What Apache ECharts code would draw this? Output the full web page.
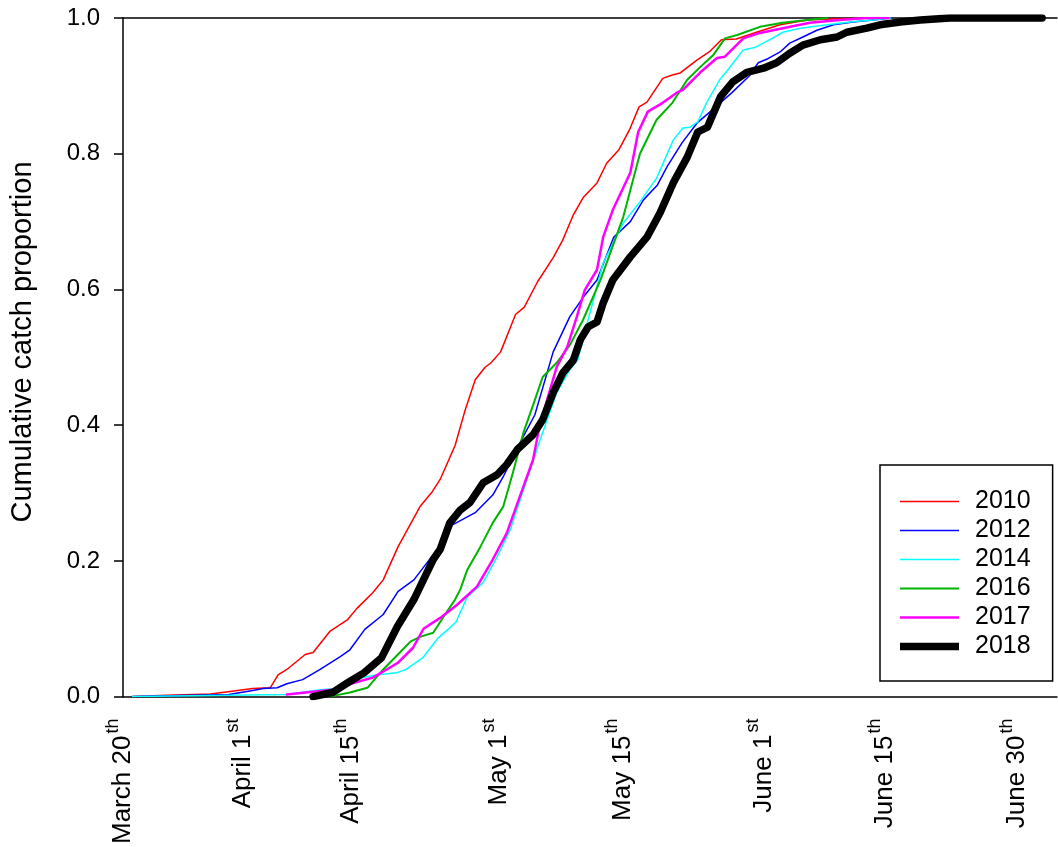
<!DOCTYPE html>
<html>
<head>
<meta charset="utf-8">
<script src="https://cdn.jsdelivr.net/npm/echarts@6/dist/echarts.min.js"></script>
<style>
  html, body { margin: 0; padding: 0; background: #fff; }
  #chart { width: 1058px; height: 847px; }
</style>
</head>
<body>
<div id="chart"></div>
<script>
// x = days after March 20th, y = cumulative catch proportion
const y2010 = [[1.1,0],[5,0.002],[10,0.004],[12,0.007],[14.8,0.012],[16.8,0.013],[17.7,0.032],[18.7,0.040],[20.8,0.062],[21.7,0.065],[23.6,0.096],[25.6,0.113],[26.7,0.13],[28.5,0.153],[29.7,0.172],[31.4,0.221],[33.9,0.28],[35.3,0.302],[36.2,0.32],[37.9,0.37],[39.0,0.42],[40.2,0.467],[41.3,0.485],[42.0,0.492],[43.1,0.508],[44.8,0.563],[45.8,0.574],[47.3,0.611],[49.1,0.647],[50.2,0.673],[51.4,0.71],[52.5,0.735],[54.1,0.757],[55.2,0.786],[56.6,0.806],[57.8,0.835],[58.9,0.869],[59.8,0.876],[61.6,0.911],[62.7,0.916],[63.6,0.919],[65.5,0.938],[66.9,0.95],[68.3,0.968],[70.0,0.969],[72.3,0.979],[75.0,0.99],[78.1,0.997],[81.5,0.999],[86.9,1.0]];
const y2012 = [[1.1,0],[12.1,0.003],[14.8,0.009],[16,0.012],[17.6,0.013],[18.7,0.019],[20.5,0.025],[22.5,0.040],[24.8,0.059],[25.9,0.069],[27.6,0.099],[29.7,0.121],[31.4,0.155],[33.2,0.172],[36.1,0.221],[37.6,0.253],[40.2,0.271],[42.2,0.297],[43.4,0.324],[45.3,0.374],[47.0,0.415],[49.1,0.508],[51.0,0.56],[52.5,0.588],[54.1,0.614],[56.0,0.677],[57.9,0.70],[59.4,0.732],[61.0,0.754],[62.1,0.781],[63.8,0.816],[65.5,0.845],[67.4,0.866],[69.5,0.89],[71.5,0.915],[72.5,0.934],[73.6,0.94],[75.0,0.95],[76.1,0.963],[77.6,0.972],[79.2,0.982],[81.1,0.99],[83.3,0.994],[85.6,0.997],[87.6,1.0]];
const y2014 = [[1.1,0],[18.7,0.003],[22.5,0.01],[24.4,0.012],[27.3,0.028],[28.9,0.032],[31.2,0.035],[32.3,0.040],[34.2,0.057],[36.0,0.087],[37.1,0.099],[38.0,0.11],[39.3,0.147],[41.1,0.168],[42.7,0.206],[44.2,0.246],[46.1,0.32],[47.6,0.378],[49.5,0.448],[51.0,0.482],[51.9,0.496],[53.0,0.551],[54.8,0.639],[57.1,0.698],[59.0,0.729],[60.9,0.764],[62.8,0.82],[63.9,0.838],[64.7,0.839],[65.6,0.847],[66.6,0.875],[68.1,0.909],[69.0,0.923],[69.9,0.938],[70.8,0.953],[72.2,0.957],[74.1,0.97],[75.3,0.979],[77.3,0.985],[80.4,0.99],[83.0,0.994],[85.6,0.997],[87.6,1.0]];
const y2016 = [[23.6,0],[25.9,0.006],[27.9,0.013],[29.7,0.04],[31.6,0.065],[32.8,0.081],[33.9,0.088],[35.4,0.094],[36.9,0.124],[37.9,0.143],[38.5,0.158],[39.3,0.187],[40.8,0.221],[42.2,0.256],[43.4,0.28],[44.5,0.33],[45.7,0.389],[47.0,0.437],[47.9,0.471],[49.5,0.492],[51.0,0.518],[52.5,0.555],[54.5,0.614],[57.1,0.707],[59.0,0.80],[60.9,0.85],[62.7,0.875],[64.4,0.909],[65.9,0.928],[67.4,0.946],[68.7,0.97],[70.1,0.975],[72.7,0.987],[75.3,0.993],[78.1,0.997],[80.4,1.0]];
const y2017 = [[18.7,0.003],[21.7,0.007],[23.9,0.01],[26.3,0.02],[28.5,0.028],[30.1,0.04],[31.4,0.05],[33.1,0.072],[34.3,0.1],[36.2,0.116],[38.1,0.135],[40.4,0.162],[42.2,0.202],[43.8,0.241],[45.3,0.295],[46.8,0.349],[47.4,0.389],[48.4,0.437],[49.5,0.486],[50.7,0.515],[51.8,0.56],[52.7,0.599],[54.1,0.629],[54.8,0.677],[55.9,0.717],[57.9,0.772],[58.8,0.832],[59.9,0.862],[61.6,0.875],[63.2,0.89],[63.9,0.894],[65.9,0.92],[67.8,0.941],[68.7,0.943],[70.8,0.97],[72.7,0.978],[75.3,0.985],[78.4,0.993],[81.8,0.997],[84.9,1.0],[87.3,1.0]];
const y2018 = [[21.7,0],[23.9,0.006],[25.6,0.02],[27.5,0.035],[29.5,0.057],[31.3,0.103],[33.2,0.143],[34.7,0.183],[35.4,0.202],[36.2,0.217],[37.3,0.256],[38.5,0.275],[39.6,0.286],[41.1,0.315],[42.7,0.327],[43.8,0.342],[45.0,0.364],[46.8,0.386],[47.9,0.408],[49.1,0.448],[50.2,0.477],[51.4,0.496],[52.2,0.526],[53.1,0.545],[54.1,0.552],[54.8,0.58],[55.9,0.614],[57.9,0.648],[59.8,0.677],[61.3,0.713],[62.8,0.757],[64.4,0.795],[65.6,0.832],[66.7,0.839],[67.2,0.854],[68.2,0.884],[69.6,0.906],[71.2,0.92],[73.1,0.926],[74.6,0.934],[76.1,0.948],[77.6,0.96],[79.6,0.968],[81.5,0.972],[82.6,0.979],[84.9,0.985],[86.4,0.99],[88.7,0.994],[91.0,0.997],[94.4,1.0],[104.9,1.0]];

// date labels under the x axis
const tickDays = [0, 13.7, 26, 42.9, 57, 73.1, 87, 102];
const tickNames = ["March 20", "April 1", "April 15", "May 1", "May 15", "June 1", "June 15", "June 30"];
const tickSups = ["th", "st", "th", "st", "th", "st", "th", "th"];

const years = ["2010", "2012", "2014", "2016", "2017", "2018"];
const yearData = [y2010, y2012, y2014, y2016, y2017, y2018];
const colors = ["#ff0000", "#0000ff", "#00ffff", "#00b400", "#ff00ff", "#000000"];
const widths = [1.5, 1.5, 1.5, 2, 2.5, 7.5];

const font = "Liberation Sans, Arial, Helvetica, sans-serif";

const myChart = echarts.init(document.getElementById("chart"));

const series = years.map((y, i) => ({
  name: y,
  type: "line",
  data: yearData[i],
  symbol: "none",
  showSymbol: false,
  color: colors[i],
  lineStyle: { color: colors[i], width: widths[i], join: "round", cap: "round" },
  emphasis: { disabled: true },
  z: 2 + i,
}));

// legend icons: plain bars as thick as each line
const legendData = years.map((y, i) => ({
  name: y,
  icon: "path://M0,0H59V" + widths[i] + "H0Z",
}));

const option = {
  animation: false,
  backgroundColor: "#fff",
  grid: { left: 123, right: 1, top: 18, bottom: 150, containLabel: false },
  legend: {
    orient: "vertical",
    left: 880,
    top: 465,
    data: legendData,
    itemWidth: 59,
    itemHeight: 14,
    itemGap: 4.0,
    padding: [24, 22, 22, 20],
    borderColor: "#000",
    borderWidth: 1.5,
    borderRadius: 0,
    textStyle: { fontFamily: font, fontSize: 25, color: "#000", lineHeight: 24, padding: [0, 0, 0, 11] },
  },
  graphic: [
    {
      type: "text",
      x: 23,
      y: 342,
      rotation: Math.PI / 2,
      style: {
        text: "Cumulative catch proportion",
        font: "29px " + font,
        fill: "#000",
        textAlign: "center",
        textVerticalAlign: "middle",
      },
    },
  ],
  xAxis: [
    {
      type: "value",
      min: 0,
      max: 106.6,
      splitLine: { show: false },
      axisLine: { lineStyle: { color: "#000", width: 1.5 } },
      axisTick: { show: false },
      axisLabel: {
        customValues: tickDays,
        rotate: 90,
        margin: 22,
        color: "#000",
        formatter: (v) => {
          let k = 0;
          tickDays.forEach((d, i) => {
            if (Math.abs(d - v) < Math.abs(tickDays[k] - v)) k = i;
          });
          return "{m|" + tickNames[k] + "}{s|" + tickSups[k] + "}";
        },
        rich: {
          m: { fontFamily: font, fontSize: 26, lineHeight: 38, color: "#000" },
          s: { fontFamily: font, fontSize: 18, lineHeight: 18, verticalAlign: "top", color: "#000", padding: [0, 0, 0, 2] },
        },
      },
    },
    {
      type: "value",
      position: "top",
      min: 0,
      max: 106.6,
      splitLine: { show: false },
      axisLine: { show: true, lineStyle: { color: "#000", width: 1.5 } },
      axisTick: { show: false },
      axisLabel: { show: false },
    },
  ],
  yAxis: {
    type: "value",
    min: 0,
    max: 1,
    interval: 0.2,
    splitLine: { show: false },
    axisLine: { show: true, lineStyle: { color: "#000", width: 1.5 } },
    axisTick: { show: true, length: 9, lineStyle: { color: "#000", width: 1.5 } },
    axisLabel: {
      margin: 23,
      color: "#000",
      fontFamily: font,
      fontSize: 24,
      formatter: (v) => v.toFixed(1),
    },
  },
  series: series,
};

myChart.setOption(option);
</script>
</body>
</html>
